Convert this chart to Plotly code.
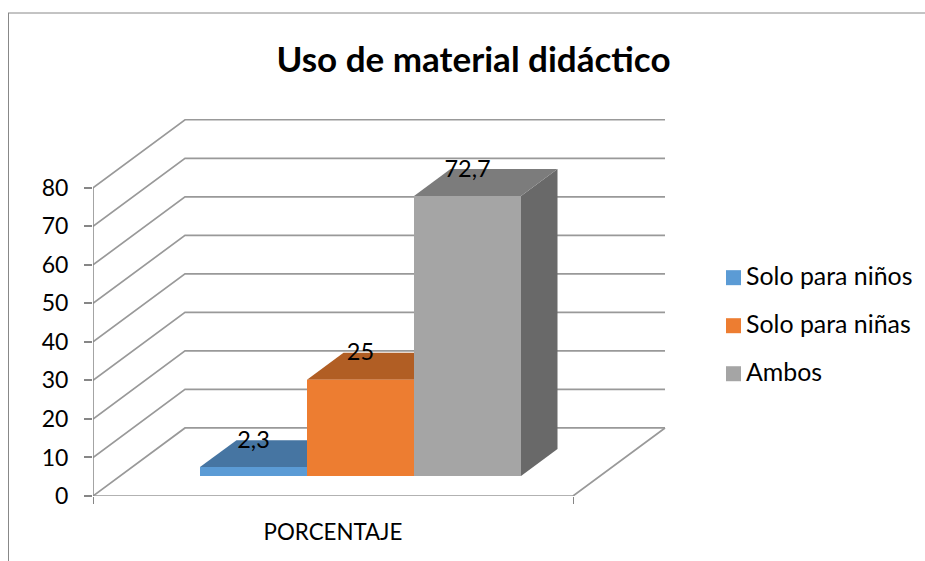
"""
Uso de material didactico: Excel style 3-D column chart, drawn with an oblique projection.
"""

import plotly.graph_objects as go

# data
categories = ["Solo para niños", "Solo para niñas", "Ambos"]
values = [2.3, 25, 72.7]
value_labels = ["2,3", "25", "72,7"]
y_ticks = [0, 10, 20, 30, 40, 50, 60, 70, 80]
axis_category = "PORCENTAJE"

# colours per series: front, top, side
FRONT = ["#5B9BD5", "#ED7D31", "#A5A5A5"]
TOP = ["#4675A2", "#B15E24", "#7C7C7C"]
SIDE = ["#3D6A94", "#A85620", "#696969"]
GRID = "#999999"
AXIS = "#868686"
FONT = "Lato"

# page geometry, pixels
W, H = 925, 561
LEFT, BOTTOM = 93, 495.7
PX_PER_UNIT = 3.85

# projection: plot x is in pixels from the axis, plot y in value units
FLOOR_W = 480
WALL_DX, WALL_DY = 92, 68 / PX_PER_UNIT
BAR_X0, BAR_W = 107, 107
BAR_DX, BAR_DY = 36.5, 7.0
BAR_BASE = 5.2

# legend position in pixels
SWATCH_X = 733.5
LABEL_X = 746
LEGEND_Y = [277.5, 325.5, 373.5]


def paper_x(px):
    return (px - LEFT) / (W - LEFT)


def paper_y(py):
    return (BOTTOM - py) / BOTTOM


def poly(xs, ys, color):
    return go.Scatter(
        x=xs, y=ys, mode="lines", fill="toself", fillcolor=color,
        line=dict(color=color, width=0), showlegend=False,
        hoverinfo="skip", cliponaxis=False,
    )


fig = go.Figure()

# walls and floor
for v in y_ticks:
    fig.add_trace(go.Scatter(
        x=[0, WALL_DX, FLOOR_W + WALL_DX], y=[v, v + WALL_DY, v + WALL_DY],
        mode="lines", line=dict(color=GRID, width=1.7),
        showlegend=False, hoverinfo="skip", cliponaxis=False,
    ))
fig.add_trace(go.Scatter(
    x=[0, FLOOR_W, FLOOR_W + WALL_DX], y=[0, 0, WALL_DY],
    mode="lines", line=dict(color=GRID, width=1.7),
    showlegend=False, hoverinfo="skip", cliponaxis=False,
))
fig.add_trace(go.Scatter(
    x=[0, 0], y=[0, y_ticks[-1]],
    mode="lines", line=dict(color=AXIS, width=1.5),
    showlegend=False, hoverinfo="skip", cliponaxis=False,
))

# columns, back faces first
for i, v in enumerate(values):
    x0 = BAR_X0 + i * BAR_W
    x1 = x0 + BAR_W
    y0 = BAR_BASE
    y1 = BAR_BASE + v
    fig.add_trace(poly(
        [x1, x1 + BAR_DX, x1 + BAR_DX, x1, x1],
        [y0, y0 + BAR_DY, y1 + BAR_DY, y1, y0], SIDE[i],
    ))
    fig.add_trace(poly(
        [x0, x0 + BAR_DX, x1 + BAR_DX, x1, x0],
        [y1, y1 + BAR_DY, y1 + BAR_DY, y1, y1], TOP[i],
    ))
    fig.add_trace(poly([x0, x1, x1, x0, x0], [y0, y0, y1, y1, y0], FRONT[i]))

# data labels
fig.add_trace(go.Scatter(
    x=[BAR_X0 + (i + 0.5) * BAR_W for i in range(len(values))],
    y=[BAR_BASE + v + BAR_DY - 0.5 for v in values],
    mode="text", text=value_labels, textposition="middle center",
    textfont=dict(family=FONT, size=23.5, color="#000000"),
    showlegend=False, hoverinfo="skip", cliponaxis=False,
))

# legend entries: the built-in legend cannot put the swatch this close to its text
for name, color, ly in zip(categories, FRONT, LEGEND_Y):
    fig.add_trace(go.Scatter(
        x=[SWATCH_X - LEFT], y=[(BOTTOM - ly) / PX_PER_UNIT],
        mode="markers", name=name,
        marker=dict(symbol="square", size=15, color=color),
        showlegend=False, hoverinfo="name", cliponaxis=False,
    ))
    fig.add_trace(go.Scatter(
        x=[LABEL_X - LEFT], y=[(BOTTOM - ly - 1.5) / PX_PER_UNIT],
        mode="text", text=[name], textposition="middle right",
        textfont=dict(family=FONT, size=24.9, color="#000000"),
        showlegend=False, hoverinfo="skip", cliponaxis=False,
    ))

fig.update_layout(
    width=W, height=H,
    margin=dict(l=LEFT, r=0, t=0, b=H - BOTTOM),
    paper_bgcolor="#FFFFFF", plot_bgcolor="#FFFFFF",
    font=dict(family=FONT, color="#000000"),
    title=dict(
        text="<b>Uso de material didáctico</b>",
        font=dict(family=FONT, size=35, color="#000000"),
        x=473.5 / W, xanchor="center", xref="container",
        y=1 - 60 / H, yanchor="middle", yref="container",
    ),
    xaxis=dict(
        range=[0, W - LEFT], showgrid=False, zeroline=False, showline=False,
        tickmode="array", tickvals=[FLOOR_W / 2], ticktext=[axis_category],
        ticks="outside", ticklen=16, tickcolor="rgba(0,0,0,0)",
        tickfont=dict(family=FONT, size=22.3, color="#000000"),
        minor=dict(tickmode="array", tickvals=[0, FLOOR_W], ticks="outside",
                   ticklen=7, tickcolor=AXIS, tickwidth=1),
    ),
    yaxis=dict(
        range=[0, BOTTOM / PX_PER_UNIT], showgrid=False, zeroline=False, showline=False,
        tickmode="array", tickvals=y_ticks,
        ticks="outside", ticklen=8, tickcolor=AXIS, tickwidth=1.5,
        ticklabelstandoff=11,
        tickfont=dict(family=FONT, size=23, color="#000000"),
    ),
    showlegend=False,
    shapes=[
        dict(type="line", xref="paper", yref="paper", x0=paper_x(8), x1=1,
             y0=paper_y(13), y1=paper_y(13), line=dict(color="#888888", width=1)),
        dict(type="line", xref="paper", yref="paper", x0=paper_x(8.5), x1=paper_x(8.5),
             y0=paper_y(13), y1=paper_y(H), line=dict(color="#888888", width=1)),
    ],
)

# drop the browser's default 8px body margin so the figure fills the window
fig.write_html(
    "out.html",
    config={"displayModeBar": False},
    post_script='document.body.style.margin = "0";',
)
